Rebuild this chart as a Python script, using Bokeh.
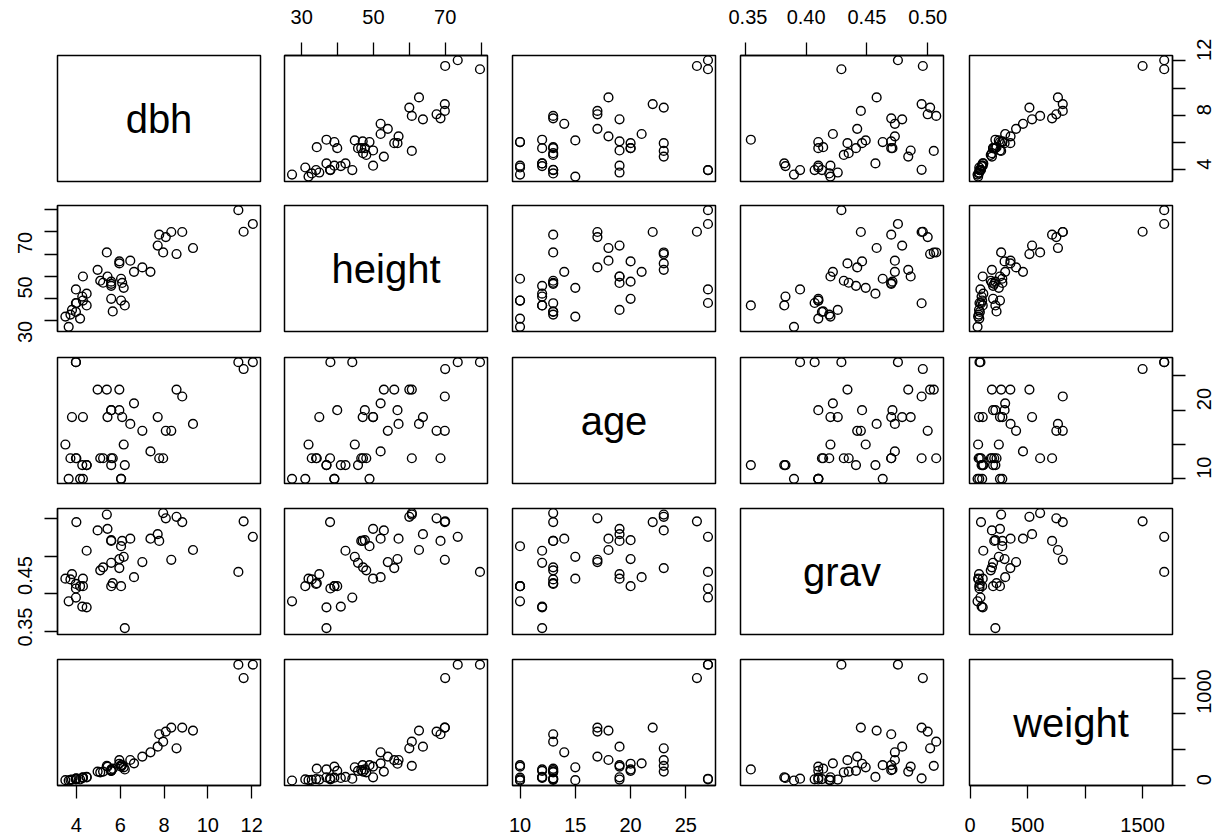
import numpy as np
from bokeh.plotting import figure
from bokeh.layouts import gridplot
from bokeh.models import Range1d, FixedTicker, ColumnDataSource, LinearAxis, PrintfTickFormatter
from bokeh.embed import file_html
from bokeh.resources import INLINE
from bokeh.core.properties import value

# ---- data ----
names = ["dbh", "height", "age", "grav", "weight"]

dbh = [3.65, 4.17, 3.50, 3.73, 3.80, 3.98, 4.47, 3.98, 4.27, 4.47, 3.98, 4.00, 4.30,
       5.66, 6.21, 6.04, 5.59, 6.16, 5.59, 5.59, 5.22, 5.59, 5.09, 6.04, 5.42, 4.30, 6.63,
       4.97, 7.01, 5.96, 5.96, 6.46, 5.39, 6.09,
       7.38, 8.57, 7.96, 9.32, 7.71, 8.08, 7.78, 8.83, 8.33, 11.63, 12.05, 11.39]
height = [27.3, 31.0, 31.9, 32.8, 34.9, 34.0, 36.9, 38.0, 40.9, 42.2, 44.1, 37.9, 39.1,
          34.2, 36.9, 39.1, 39.9, 44.8, 45.7, 46.6, 47.1, 47.6, 48.0, 48.9, 49.9, 49.9, 52.0,
          52.9, 54.0, 55.8, 56.7, 57.0, 60.7, 47.0,
          52.0, 60.0, 60.7, 62.7, 63.8, 67.6, 68.7, 69.9, 69.9, 70.0, 73.5, 79.7]
age = [10, 10, 15, 13, 19, 13, 12, 27, 12, 12, 27, 13, 10,
       13, 12, 10, 20, 15, 12, 13, 13, 20, 13, 10, 19, 19, 21,
       23, 17, 23, 20, 18, 23, 19,
       14, 23, 13, 18, 19, 17, 13, 22, 17, 26, 27, 27]
grav = [0.390, 0.410, 0.420, 0.419, 0.426, 0.413, 0.382, 0.407, 0.383, 0.457, 0.395, 0.495, 0.410,
        0.414, 0.3545, 0.410, 0.410, 0.449, 0.441, 0.470, 0.435, 0.471, 0.431, 0.463, 0.486, 0.420, 0.422,
        0.484, 0.442, 0.434, 0.446, 0.473, 0.505, 0.470,
        0.473, 0.502, 0.507, 0.458, 0.479, 0.500, 0.470, 0.495, 0.445, 0.496, 0.4755, 0.429]
weight = [65, 80, 70, 75, 78, 85, 110, 82, 100, 115, 90, 95, 105,
          230, 220, 260, 200, 250, 200, 210, 190, 220, 180, 280, 260, 110, 305,
          190, 400, 350, 300, 352, 270, 281,
          460, 516, 609, 764, 539, 750, 713, 806, 806, 1500, 1688, 1688]

# axis limits and tick marks
limits = {"dbh": (3.14, 12.40), "height": (25.2, 81.8), "age": (9.32, 27.68),
          "grav": (0.346, 0.513), "weight": (-5, 1760)}
ticks = {"dbh": [4, 6, 8, 10, 12], "height": [30, 40, 50, 60, 70, 80],
         "age": [10, 15, 20, 25], "grav": [0.35, 0.40, 0.45, 0.50],
         "weight": [0, 500, 1000, 1500]}
x_shown = {"dbh": [4, 6, 8, 10, 12], "height": [30, 50, 70], "age": [10, 15, 20, 25],
           "grav": [0.35, 0.40, 0.45, 0.50], "weight": [0, 500, 1500]}
y_shown = {"dbh": [4, 8, 12], "height": [30, 50, 70], "age": [10, 20],
           "grav": [0.35, 0.45], "weight": [0, 1000]}

src = ColumnDataSource(dict(dbh=dbh, height=height, age=age, grav=grav, weight=weight))

FONT = "Liberation Sans"
FW, FH = 203, 126
col_left = [57, 12, 12, 12, 12]
col_right = [12, 13, 13, 14, 55]
row_top = [55, 12, 13, 13, 13]
row_bottom = [12, 13, 12, 12, 53]

xr = {n: Range1d(*limits[n]) for n in names}
yr = {n: Range1d(*limits[n]) for n in names}


def fmt(v, n):
    if n == "grav":
        return "%.2f" % v
    return "%g" % v


def make_axis(n, shown, horizontal):
    ax = LinearAxis(ticker=FixedTicker(ticks=ticks[n], minor_ticks=[]))
    if n == "grav":
        ax.formatter = PrintfTickFormatter(format="%.2f")
    ax.major_label_overrides = {t: (fmt(t, n) if t in shown else "") for t in ticks[n]}
    ax.axis_line_color = "black"
    ax.axis_line_width = 1.3
    ax.major_tick_line_color = "black"
    ax.major_tick_line_width = 1.3
    ax.major_tick_in = 0
    ax.major_tick_out = 13
    ax.minor_tick_line_color = None
    ax.major_label_text_font = FONT
    ax.major_label_text_font_size = "20px"
    ax.major_label_text_color = "black"
    if horizontal:
        ax.major_label_standoff = 19
    else:
        ax.major_label_standoff = 19
        ax.major_label_orientation = np.pi / 2
    return ax


rows = []
for i, yn in enumerate(names):
    row = []
    for j, xn in enumerate(names):
        p = figure(frame_width=FW, frame_height=FH, x_range=xr[xn], y_range=yr[yn],
                   x_axis_type=None, y_axis_type=None,
                   output_backend="svg", toolbar_location=None,
                   min_border_left=col_left[j], min_border_right=col_right[j],
                   min_border_top=row_top[i], min_border_bottom=row_bottom[i])
        p.outline_line_color = "black"
        p.outline_line_width = 1.5
        p.outline_line_alpha = 1.0
        p.background_fill_color = "white"
        p.border_fill_color = "white"
        if i == j:
            lo, hi = limits[xn]
            lo2, hi2 = limits[yn]
            p.text(x=[(lo + hi) / 2], y=[(lo2 + hi2) / 2], text=[xn],
                   text_align="center", text_baseline="middle",
                   text_font=value(FONT), text_font_size="40px", text_color="black")
        else:
            p.scatter(x=xn, y=yn, source=src, size=8.8, fill_color=None,
                      line_color="black", line_width=1.4)
        # outer axes like R pairs()
        if i == 0 and j % 2 == 1:
            p.add_layout(make_axis(xn, x_shown[xn], True), "above")
        if i == 4 and j % 2 == 0:
            p.add_layout(make_axis(xn, x_shown[xn], True), "below")
        if j == 0 and i % 2 == 1:
            p.add_layout(make_axis(yn, y_shown[yn], False), "left")
        if j == 4 and i % 2 == 0:
            p.add_layout(make_axis(yn, y_shown[yn], False), "right")
        row.append(p)
    rows.append(row)

grid = gridplot(rows, toolbar_location=None)
open("out.html", "w").write(file_html(grid, INLINE))
